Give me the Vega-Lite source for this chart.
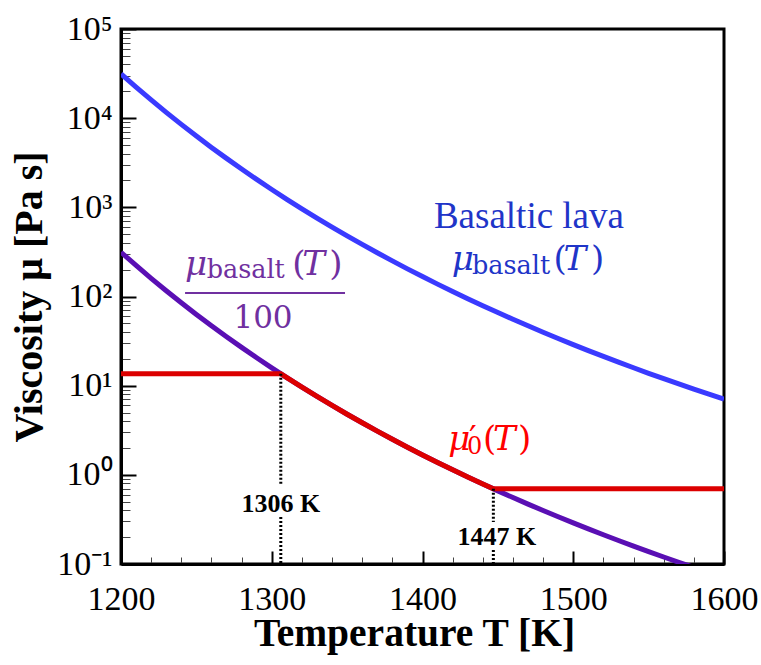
{
  "$schema": "https://vega.github.io/schema/vega-lite/v6.json",
  "width": 603,
  "height": 535,
  "autosize": "none",
  "padding": {"left": 121, "top": 29, "right": 37, "bottom": 101},
  "background": "white",
  "config": {
    "view": {"stroke": "black", "strokeWidth": 3},
    "axis": {"grid": false, "labelFont": "Liberation Serif", "titleFont": "Liberation Serif", "labelColor": "black", "titleColor": "black", "labelOverlap": false, "labelFlush": false, "labelBound": false}
  },
  "datasets": {
    "curves": [
      {"s": "basalt", "T": 1200, "mu": 31340}, {"s": "basalt", "T": 1210, "mu": 22270}, {"s": "basalt", "T": 1220, "mu": 16000}, {"s": "basalt", "T": 1230, "mu": 11614}, {"s": "basalt", "T": 1240, "mu": 8511}, {"s": "basalt", "T": 1250, "mu": 6298}, {"s": "basalt", "T": 1260, "mu": 4702}, {"s": "basalt", "T": 1270, "mu": 3541}, {"s": "basalt", "T": 1280, "mu": 2688}, {"s": "basalt", "T": 1290, "mu": 2057}, {"s": "basalt", "T": 1300, "mu": 1586}, {"s": "basalt", "T": 1310, "mu": 1230.8}, {"s": "basalt", "T": 1320, "mu": 962.7}, {"s": "basalt", "T": 1330, "mu": 757.7}, {"s": "basalt", "T": 1340, "mu": 600.1}, {"s": "basalt", "T": 1350, "mu": 478.4}, {"s": "basalt", "T": 1360, "mu": 383.5}, {"s": "basalt", "T": 1370, "mu": 309.2}, {"s": "basalt", "T": 1380, "mu": 250.7}, {"s": "basalt", "T": 1390, "mu": 204.2}, {"s": "basalt", "T": 1400, "mu": 167.3}, {"s": "basalt", "T": 1410, "mu": 137.65}, {"s": "basalt", "T": 1420, "mu": 113.9}, {"s": "basalt", "T": 1430, "mu": 94.56}, {"s": "basalt", "T": 1440, "mu": 78.86}, {"s": "basalt", "T": 1450, "mu": 66.07}, {"s": "basalt", "T": 1460, "mu": 55.58}, {"s": "basalt", "T": 1470, "mu": 46.94}, {"s": "basalt", "T": 1480, "mu": 39.78}, {"s": "basalt", "T": 1490, "mu": 33.84}, {"s": "basalt", "T": 1500, "mu": 28.9}, {"s": "basalt", "T": 1510, "mu": 24.75}, {"s": "basalt", "T": 1520, "mu": 21.28}, {"s": "basalt", "T": 1530, "mu": 18.35}, {"s": "basalt", "T": 1540, "mu": 15.87}, {"s": "basalt", "T": 1550, "mu": 13.77}, {"s": "basalt", "T": 1560, "mu": 11.98}, {"s": "basalt", "T": 1570, "mu": 10.459}, {"s": "basalt", "T": 1580, "mu": 9.152}, {"s": "basalt", "T": 1590, "mu": 8.029}, {"s": "basalt", "T": 1600, "mu": 7.063},
      {"s": "scaled", "T": 1200, "mu": 313.4}, {"s": "scaled", "T": 1210, "mu": 222.7}, {"s": "scaled", "T": 1220, "mu": 160.0}, {"s": "scaled", "T": 1230, "mu": 116.14}, {"s": "scaled", "T": 1240, "mu": 85.11}, {"s": "scaled", "T": 1250, "mu": 62.98}, {"s": "scaled", "T": 1260, "mu": 47.02}, {"s": "scaled", "T": 1270, "mu": 35.41}, {"s": "scaled", "T": 1280, "mu": 26.88}, {"s": "scaled", "T": 1290, "mu": 20.57}, {"s": "scaled", "T": 1300, "mu": 15.86}, {"s": "scaled", "T": 1310, "mu": 12.308}, {"s": "scaled", "T": 1320, "mu": 9.627}, {"s": "scaled", "T": 1330, "mu": 7.577}, {"s": "scaled", "T": 1340, "mu": 6.001}, {"s": "scaled", "T": 1350, "mu": 4.784}, {"s": "scaled", "T": 1360, "mu": 3.835}, {"s": "scaled", "T": 1370, "mu": 3.092}, {"s": "scaled", "T": 1380, "mu": 2.507}, {"s": "scaled", "T": 1390, "mu": 2.042}, {"s": "scaled", "T": 1400, "mu": 1.673}, {"s": "scaled", "T": 1410, "mu": 1.3765}, {"s": "scaled", "T": 1420, "mu": 1.139}, {"s": "scaled", "T": 1430, "mu": 0.9456}, {"s": "scaled", "T": 1440, "mu": 0.7886}, {"s": "scaled", "T": 1450, "mu": 0.6607}, {"s": "scaled", "T": 1460, "mu": 0.5558}, {"s": "scaled", "T": 1470, "mu": 0.4694}, {"s": "scaled", "T": 1480, "mu": 0.3978}, {"s": "scaled", "T": 1490, "mu": 0.3384}, {"s": "scaled", "T": 1500, "mu": 0.289}, {"s": "scaled", "T": 1510, "mu": 0.2475}, {"s": "scaled", "T": 1520, "mu": 0.2128}, {"s": "scaled", "T": 1530, "mu": 0.1835}, {"s": "scaled", "T": 1540, "mu": 0.1587}, {"s": "scaled", "T": 1550, "mu": 0.1377}, {"s": "scaled", "T": 1560, "mu": 0.1198}, {"s": "scaled", "T": 1570, "mu": 0.10459}, {"s": "scaled", "T": 1580, "mu": 0.09152},
      {"s": "mu0", "T": 1200, "mu": 13.61}, {"s": "mu0", "T": 1306, "mu": 13.61}, {"s": "mu0", "T": 1310, "mu": 12.308}, {"s": "mu0", "T": 1320, "mu": 9.627}, {"s": "mu0", "T": 1330, "mu": 7.577}, {"s": "mu0", "T": 1340, "mu": 6.001}, {"s": "mu0", "T": 1350, "mu": 4.784}, {"s": "mu0", "T": 1360, "mu": 3.835}, {"s": "mu0", "T": 1370, "mu": 3.092}, {"s": "mu0", "T": 1380, "mu": 2.507}, {"s": "mu0", "T": 1390, "mu": 2.042}, {"s": "mu0", "T": 1400, "mu": 1.673}, {"s": "mu0", "T": 1410, "mu": 1.3765}, {"s": "mu0", "T": 1420, "mu": 1.139}, {"s": "mu0", "T": 1430, "mu": 0.9456}, {"s": "mu0", "T": 1440, "mu": 0.7886}, {"s": "mu0", "T": 1447, "mu": 0.6965}, {"s": "mu0", "T": 1600, "mu": 0.6965}
    ],
    "guides": [
      {"T": 1306, "top": 13.61, "bottom": 0.7896},
      {"T": 1306, "top": 0.3367, "bottom": 0.1},
      {"T": 1447, "top": 0.6965, "bottom": 0.2959},
      {"T": 1447, "top": 0.1437, "bottom": 0.1}
    ]
  },
  "resolve": {"axis": {"x": "independent", "y": "independent"}},
  "layer": [
    {
      "data": {"name": "curves"},
      "transform": [{"filter": "datum.s === 'basalt'"}],
      "mark": {"type": "line", "opacity": 0},
      "encoding": {
        "x": {"field": "T", "type": "quantitative", "scale": {"domain": [1200, 1600], "nice": false, "zero": false},
          "axis": {"orient": "bottom", "values": [1220, 1240, 1260, 1280, 1320, 1340, 1360, 1380, 1420, 1440, 1460, 1480, 1520, 1540, 1560, 1580], "tickSize": -7, "tickWidth": 1, "tickColor": "#444", "labels": false, "domain": false, "title": null}},
        "y": {"field": "mu", "type": "quantitative", "scale": {"type": "log", "domain": [0.1, 100000], "nice": false},
          "axis": {"orient": "left", "values": [0.2, 0.3, 0.4, 0.5, 0.6, 0.7, 0.8, 0.9, 2, 3, 4, 5, 6, 7, 8, 9, 20, 30, 40, 50, 60, 70, 80, 90, 200, 300, 400, 500, 600, 700, 800, 900, 2000, 3000, 4000, 5000, 6000, 7000, 8000, 9000, 20000, 30000, 40000, 50000, 60000, 70000, 80000, 90000], "tickSize": -9, "tickWidth": 1, "tickColor": "#444", "labels": false, "domain": false, "title": null}}
      }
    },
    {
      "data": {"name": "curves"},
      "transform": [{"filter": "datum.s === 'basalt'"}],
      "mark": {"type": "line", "color": "#3a3aff", "strokeWidth": 5, "clip": true},
      "encoding": {
        "x": {"field": "T", "type": "quantitative", "scale": {"domain": [1200, 1600], "nice": false, "zero": false},
          "axis": {"orient": "bottom", "values": [1200, 1300, 1400, 1500, 1600], "format": "d", "tickSize": -13, "tickWidth": 2, "tickColor": "black", "domainColor": "black", "domainWidth": 3, "labelFont": "Liberation Serif", "labelFontSize": 34, "labelPadding": 31, "title": "Temperature T [K]", "titleFont": "Liberation Serif", "titleFontSize": 39.5, "titleFontWeight": "bold", "titlePadding": -2, "titleX": 293}},
        "y": {"field": "mu", "type": "quantitative", "scale": {"type": "log", "domain": [0.1, 100000], "nice": false},
          "axis": {"orient": "left", "values": [0.1, 1, 10, 100, 1000, 10000, 100000], "labelExpr": "datum.value > 50000 ? '10⁵' : datum.value > 5000 ? '10⁴' : datum.value > 500 ? '10³' : datum.value > 50 ? '10²' : datum.value > 5 ? '10¹' : datum.value > 0.5 ? '10⁰' : '10⁻¹'", "tickSize": -15, "tickWidth": 2, "tickColor": "black", "domainColor": "black", "domainWidth": 3, "labelFont": "Liberation Serif", "labelFontSize": 34, "labelPadding": 24, "title": "Viscosity μ [Pa s]", "titleFont": "Liberation Serif", "titleFontSize": 40, "titleFontWeight": "bold", "titlePadding": 7}}
      }
    },
    {
      "data": {"name": "curves"},
      "transform": [{"filter": "datum.s === 'scaled'"}],
      "mark": {"type": "line", "color": "#5a0fb4", "strokeWidth": 5, "clip": true},
      "encoding": {
        "x": {"field": "T", "type": "quantitative", "scale": {"domain": [1200, 1600], "nice": false, "zero": false}, "axis": null},
        "y": {"field": "mu", "type": "quantitative", "scale": {"type": "log", "domain": [0.1, 100000], "nice": false}, "axis": null}
      }
    },
    {
      "data": {"name": "curves"},
      "transform": [{"filter": "datum.s === 'mu0'"}],
      "mark": {"type": "line", "color": "#dc0000", "strokeWidth": 5, "clip": true},
      "encoding": {
        "x": {"field": "T", "type": "quantitative", "scale": {"domain": [1200, 1600], "nice": false, "zero": false}, "axis": null},
        "y": {"field": "mu", "type": "quantitative", "scale": {"type": "log", "domain": [0.1, 100000], "nice": false}, "axis": null}
      }
    },
    {
      "data": {"name": "guides"},
      "mark": {"type": "rule", "color": "black", "strokeWidth": 3, "strokeDash": [2, 2]},
      "encoding": {
        "x": {"field": "T", "type": "quantitative", "scale": {"domain": [1200, 1600], "nice": false, "zero": false}, "axis": null},
        "y": {"field": "top", "type": "quantitative", "scale": {"type": "log", "domain": [0.1, 100000], "nice": false}, "axis": null},
        "y2": {"field": "bottom"}
      }
    },
    {
      "data": {"values": [{}]},
      "mark": {"type": "text", "text": "1306 K", "font": "Liberation Serif", "fontWeight": "bold", "fontSize": 26, "color": "black", "align": "center", "baseline": "alphabetic"},
      "encoding": {"x": {"datum": 1306.1, "type": "quantitative", "scale": {"domain": [1200, 1600], "nice": false, "zero": false}, "axis": null}, "y": {"datum": 0.3833, "type": "quantitative", "scale": {"type": "log", "domain": [0.1, 100000], "nice": false}, "axis": null}}
    },
    {
      "data": {"values": [{}]},
      "mark": {"type": "text", "text": "1447 K", "font": "Liberation Serif", "fontWeight": "bold", "fontSize": 26, "color": "black", "align": "center", "baseline": "alphabetic"},
      "encoding": {"x": {"datum": 1449.4, "type": "quantitative", "scale": {"domain": [1200, 1600], "nice": false, "zero": false}, "axis": null}, "y": {"datum": 0.1633, "type": "quantitative", "scale": {"type": "log", "domain": [0.1, 100000], "nice": false}, "axis": null}}
    },
    {
      "data": {"values": [{}]},
      "mark": {"type": "text", "text": "Basaltic lava", "font": "Liberation Serif", "fontSize": 37, "color": "#1f35c8", "align": "center", "baseline": "alphabetic"},
      "encoding": {"x": {"datum": 1470.6, "type": "quantitative", "scale": {"domain": [1200, 1600], "nice": false, "zero": false}, "axis": null}, "y": {"datum": 586.7, "type": "quantitative", "scale": {"type": "log", "domain": [0.1, 100000], "nice": false}, "axis": null}}
    },
    {
      "data": {"values": [{}]},
      "mark": {"type": "text", "text": "μ", "font": "DejaVu Serif", "fontStyle": "italic", "fontSize": 34, "color": "#1f35c8", "align": "left", "baseline": "alphabetic"},
      "encoding": {"x": {"datum": 1419.4, "type": "quantitative", "scale": {"domain": [1200, 1600], "nice": false, "zero": false}, "axis": null}, "y": {"datum": 198.3, "type": "quantitative", "scale": {"type": "log", "domain": [0.1, 100000], "nice": false}, "axis": null}}
    },
    {
      "data": {"values": [{}]},
      "mark": {"type": "text", "text": "basalt", "font": "DejaVu Serif", "fontSize": 25.5, "color": "#1f35c8", "align": "left", "baseline": "alphabetic"},
      "encoding": {"x": {"datum": 1432.8, "type": "quantitative", "scale": {"domain": [1200, 1600], "nice": false, "zero": false}, "axis": null}, "y": {"datum": 178.8, "type": "quantitative", "scale": {"type": "log", "domain": [0.1, 100000], "nice": false}, "axis": null}}
    },
    {
      "data": {"values": [{}]},
      "mark": {"type": "text", "text": "(", "font": "DejaVu Serif", "fontSize": 34, "color": "#1f35c8", "align": "left", "baseline": "alphabetic"},
      "encoding": {"x": {"datum": 1486.9, "type": "quantitative", "scale": {"domain": [1200, 1600], "nice": false, "zero": false}, "axis": null}, "y": {"datum": 198.3, "type": "quantitative", "scale": {"type": "log", "domain": [0.1, 100000], "nice": false}, "axis": null}}
    },
    {
      "data": {"values": [{}]},
      "mark": {"type": "text", "text": "T", "font": "DejaVu Serif", "fontStyle": "italic", "fontSize": 34, "color": "#1f35c8", "align": "left", "baseline": "alphabetic"},
      "encoding": {"x": {"datum": 1493.5, "type": "quantitative", "scale": {"domain": [1200, 1600], "nice": false, "zero": false}, "axis": null}, "y": {"datum": 198.3, "type": "quantitative", "scale": {"type": "log", "domain": [0.1, 100000], "nice": false}, "axis": null}}
    },
    {
      "data": {"values": [{}]},
      "mark": {"type": "text", "text": ")", "font": "DejaVu Serif", "fontSize": 34, "color": "#1f35c8", "align": "left", "baseline": "alphabetic"},
      "encoding": {"x": {"datum": 1511.8, "type": "quantitative", "scale": {"domain": [1200, 1600], "nice": false, "zero": false}, "axis": null}, "y": {"datum": 198.3, "type": "quantitative", "scale": {"type": "log", "domain": [0.1, 100000], "nice": false}, "axis": null}}
    },
    {
      "data": {"values": [{}]},
      "mark": {"type": "text", "text": "μ", "font": "DejaVu Serif", "fontStyle": "italic", "fontSize": 34, "color": "#7030a0", "align": "left", "baseline": "alphabetic"},
      "encoding": {"x": {"datum": 1242.5, "type": "quantitative", "scale": {"domain": [1200, 1600], "nice": false, "zero": false}, "axis": null}, "y": {"datum": 174.3, "type": "quantitative", "scale": {"type": "log", "domain": [0.1, 100000], "nice": false}, "axis": null}}
    },
    {
      "data": {"values": [{}]},
      "mark": {"type": "text", "text": "basalt", "font": "DejaVu Serif", "fontSize": 25.5, "color": "#7030a0", "align": "left", "baseline": "alphabetic"},
      "encoding": {"x": {"datum": 1256.8, "type": "quantitative", "scale": {"domain": [1200, 1600], "nice": false, "zero": false}, "axis": null}, "y": {"datum": 161.3, "type": "quantitative", "scale": {"type": "log", "domain": [0.1, 100000], "nice": false}, "axis": null}}
    },
    {
      "data": {"values": [{}]},
      "mark": {"type": "text", "text": "(", "font": "DejaVu Serif", "fontSize": 34, "color": "#7030a0", "align": "left", "baseline": "alphabetic"},
      "encoding": {"x": {"datum": 1313.6, "type": "quantitative", "scale": {"domain": [1200, 1600], "nice": false, "zero": false}, "axis": null}, "y": {"datum": 174.3, "type": "quantitative", "scale": {"type": "log", "domain": [0.1, 100000], "nice": false}, "axis": null}}
    },
    {
      "data": {"values": [{}]},
      "mark": {"type": "text", "text": "T", "font": "DejaVu Serif", "fontStyle": "italic", "fontSize": 34, "color": "#7030a0", "align": "left", "baseline": "alphabetic"},
      "encoding": {"x": {"datum": 1320.3, "type": "quantitative", "scale": {"domain": [1200, 1600], "nice": false, "zero": false}, "axis": null}, "y": {"datum": 174.3, "type": "quantitative", "scale": {"type": "log", "domain": [0.1, 100000], "nice": false}, "axis": null}}
    },
    {
      "data": {"values": [{}]},
      "mark": {"type": "text", "text": ")", "font": "DejaVu Serif", "fontSize": 34, "color": "#7030a0", "align": "left", "baseline": "alphabetic"},
      "encoding": {"x": {"datum": 1338.2, "type": "quantitative", "scale": {"domain": [1200, 1600], "nice": false, "zero": false}, "axis": null}, "y": {"datum": 174.3, "type": "quantitative", "scale": {"type": "log", "domain": [0.1, 100000], "nice": false}, "axis": null}}
    },
    {
      "data": {"values": [{}]},
      "mark": {"type": "rule", "color": "#7030a0", "strokeWidth": 2},
      "encoding": {"x": {"datum": 1242.5, "type": "quantitative", "scale": {"domain": [1200, 1600], "nice": false, "zero": false}, "axis": null}, "x2": {"datum": 1348.6}, "y": {"datum": 109.5, "type": "quantitative", "scale": {"type": "log", "domain": [0.1, 100000], "nice": false}, "axis": null}}
    },
    {
      "data": {"values": [{}]},
      "mark": {"type": "text", "text": "100", "font": "DejaVu Serif", "fontSize": 31, "color": "#7030a0", "align": "center", "baseline": "alphabetic"},
      "encoding": {"x": {"datum": 1294.2, "type": "quantitative", "scale": {"domain": [1200, 1600], "nice": false, "zero": false}, "axis": null}, "y": {"datum": 44.36, "type": "quantitative", "scale": {"type": "log", "domain": [0.1, 100000], "nice": false}, "axis": null}}
    },
    {
      "data": {"values": [{}]},
      "mark": {"type": "text", "text": "μ", "font": "DejaVu Serif", "fontStyle": "italic", "fontSize": 34, "color": "#ff0000", "align": "left", "baseline": "alphabetic"},
      "encoding": {"x": {"datum": 1417.1, "type": "quantitative", "scale": {"domain": [1200, 1600], "nice": false, "zero": false}, "axis": null}, "y": {"datum": 1.899, "type": "quantitative", "scale": {"type": "log", "domain": [0.1, 100000], "nice": false}, "axis": null}}
    },
    {
      "data": {"values": [{}]},
      "mark": {"type": "text", "text": "′", "font": "DejaVu Serif", "fontSize": 34, "color": "#ff0000", "align": "left", "baseline": "alphabetic"},
      "encoding": {"x": {"datum": 1430.8, "type": "quantitative", "scale": {"domain": [1200, 1600], "nice": false, "zero": false}, "axis": null}, "y": {"datum": 1.899, "type": "quantitative", "scale": {"type": "log", "domain": [0.1, 100000], "nice": false}, "axis": null}}
    },
    {
      "data": {"values": [{}]},
      "mark": {"type": "text", "text": "0", "font": "DejaVu Serif", "fontSize": 24, "color": "#ff0000", "align": "left", "baseline": "alphabetic"},
      "encoding": {"x": {"datum": 1429.5, "type": "quantitative", "scale": {"domain": [1200, 1600], "nice": false, "zero": false}, "axis": null}, "y": {"datum": 1.713, "type": "quantitative", "scale": {"type": "log", "domain": [0.1, 100000], "nice": false}, "axis": null}}
    },
    {
      "data": {"values": [{}]},
      "mark": {"type": "text", "text": "(", "font": "DejaVu Serif", "fontSize": 34, "color": "#ff0000", "align": "left", "baseline": "alphabetic"},
      "encoding": {"x": {"datum": 1440.1, "type": "quantitative", "scale": {"domain": [1200, 1600], "nice": false, "zero": false}, "axis": null}, "y": {"datum": 1.899, "type": "quantitative", "scale": {"type": "log", "domain": [0.1, 100000], "nice": false}, "axis": null}}
    },
    {
      "data": {"values": [{}]},
      "mark": {"type": "text", "text": "T", "font": "DejaVu Serif", "fontStyle": "italic", "fontSize": 34, "color": "#ff0000", "align": "left", "baseline": "alphabetic"},
      "encoding": {"x": {"datum": 1446.8, "type": "quantitative", "scale": {"domain": [1200, 1600], "nice": false, "zero": false}, "axis": null}, "y": {"datum": 1.899, "type": "quantitative", "scale": {"type": "log", "domain": [0.1, 100000], "nice": false}, "axis": null}}
    },
    {
      "data": {"values": [{}]},
      "mark": {"type": "text", "text": ")", "font": "DejaVu Serif", "fontSize": 34, "color": "#ff0000", "align": "left", "baseline": "alphabetic"},
      "encoding": {"x": {"datum": 1463.4, "type": "quantitative", "scale": {"domain": [1200, 1600], "nice": false, "zero": false}, "axis": null}, "y": {"datum": 1.899, "type": "quantitative", "scale": {"type": "log", "domain": [0.1, 100000], "nice": false}, "axis": null}}
    }
  ]
}
